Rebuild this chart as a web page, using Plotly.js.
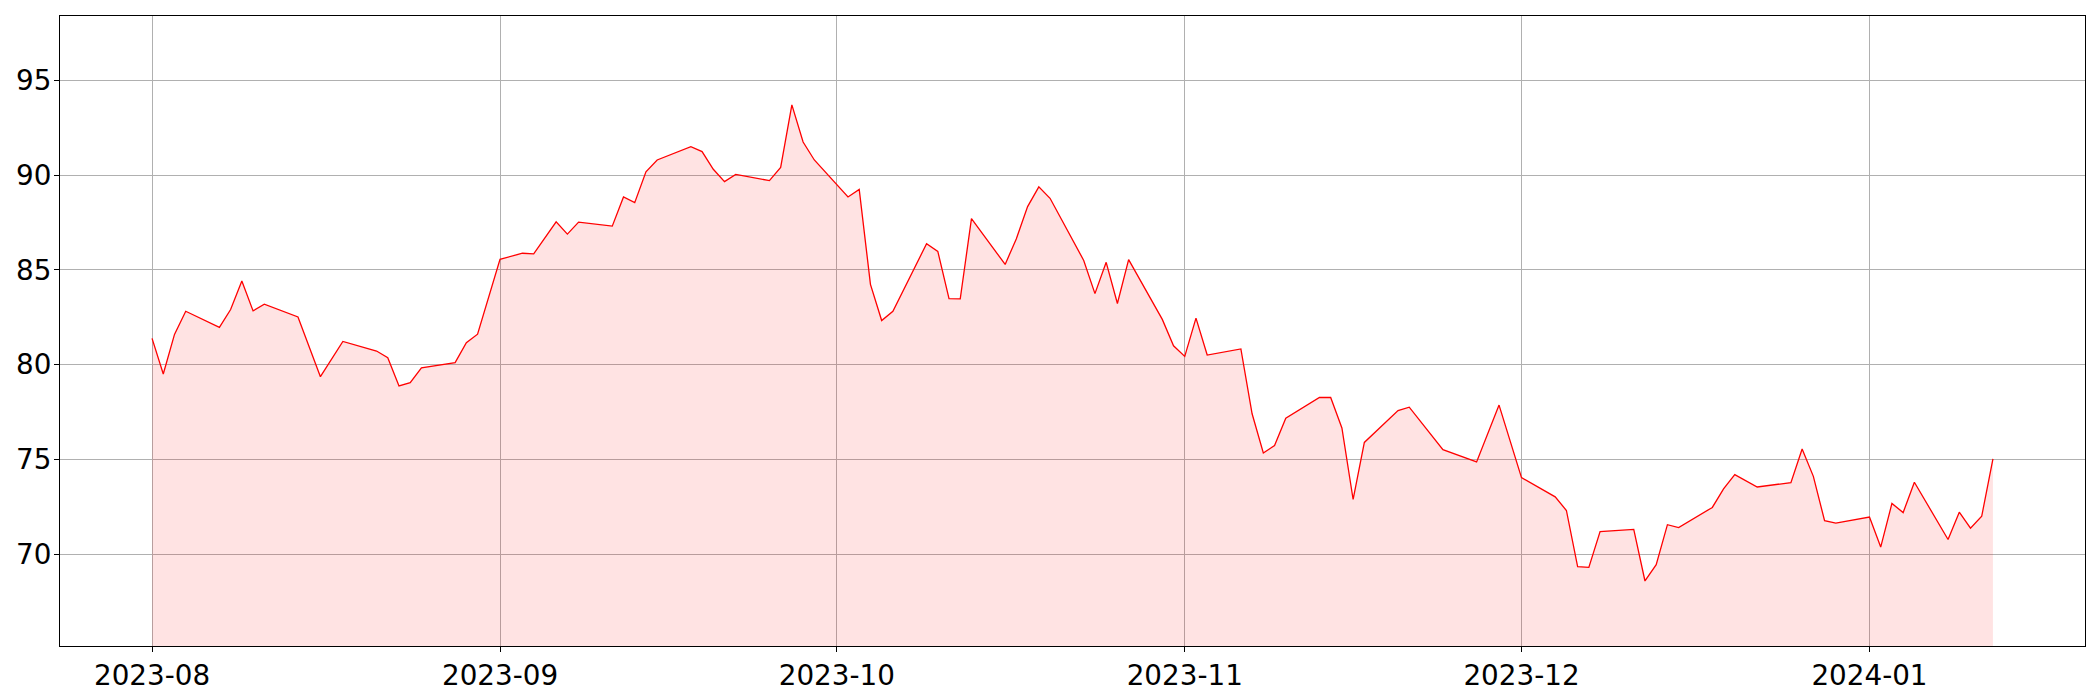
<!DOCTYPE html>
<html>
<head>
<meta charset="utf-8">
<script src="https://cdn.plot.ly/plotly-3.0.1.min.js"></script>
<style>
  html, body { margin: 0; padding: 0; background: #ffffff; }
  #chart { width: 2100px; height: 700px; }
</style>
</head>
<body>
<div id="chart"></div>
<script>
const dates = [
  '2023-08-01','2023-08-02','2023-08-03','2023-08-04','2023-08-07','2023-08-08','2023-08-09','2023-08-10','2023-08-11',
  '2023-08-14','2023-08-16','2023-08-18','2023-08-21','2023-08-22','2023-08-23','2023-08-24','2023-08-25',
  '2023-08-28','2023-08-29','2023-08-30','2023-09-01','2023-09-03','2023-09-04','2023-09-06','2023-09-07','2023-09-08',
  '2023-09-11','2023-09-12','2023-09-13','2023-09-14','2023-09-15','2023-09-18','2023-09-19','2023-09-20','2023-09-21','2023-09-22',
  '2023-09-25','2023-09-26','2023-09-27','2023-09-28','2023-09-29','2023-10-02','2023-10-03','2023-10-04','2023-10-05','2023-10-06',
  '2023-10-09','2023-10-10','2023-10-11','2023-10-12','2023-10-13','2023-10-16','2023-10-17','2023-10-18','2023-10-19','2023-10-20',
  '2023-10-23','2023-10-24','2023-10-25','2023-10-26','2023-10-27','2023-10-30','2023-10-31','2023-11-01','2023-11-02','2023-11-03',
  '2023-11-06','2023-11-07','2023-11-08','2023-11-09','2023-11-10','2023-11-13','2023-11-14','2023-11-15','2023-11-16','2023-11-17',
  '2023-11-20','2023-11-21','2023-11-24','2023-11-27','2023-11-29','2023-12-01','2023-12-04','2023-12-05','2023-12-06','2023-12-07','2023-12-08',
  '2023-12-11','2023-12-12','2023-12-13','2023-12-14','2023-12-15','2023-12-18','2023-12-19','2023-12-20','2023-12-22',
  '2023-12-25','2023-12-26','2023-12-27','2023-12-28','2023-12-29','2024-01-01','2024-01-02','2024-01-03','2024-01-04','2024-01-05',
  '2024-01-08','2024-01-09','2024-01-10','2024-01-11','2024-01-12'
];
const prices = [
  81.39,79.51,81.60,82.82,81.97,82.91,84.42,82.84,83.19,
  82.52,79.37,81.23,80.72,80.37,78.88,79.05,79.83,
  80.11,81.16,81.61,85.56,85.88,85.85,87.54,86.89,87.52,
  87.31,88.85,88.55,90.18,90.80,91.50,91.24,90.31,89.66,90.04,
  89.71,90.41,93.71,91.75,90.80,88.85,89.25,84.24,82.33,82.82,
  86.38,85.98,83.49,83.47,87.71,85.29,86.65,88.34,89.38,88.78,
  85.50,83.75,85.40,83.23,85.54,82.39,81.00,80.44,82.46,80.51,
  80.83,77.41,75.34,75.74,77.18,78.27,78.27,76.66,72.89,75.90,
  77.58,77.76,75.52,74.87,77.87,74.04,73.03,72.31,69.35,69.31,71.20,
  71.31,68.59,69.45,71.56,71.41,72.47,73.45,74.20,73.55,
  73.78,75.55,74.11,71.77,71.64,71.96,70.38,72.68,72.20,73.80,
  70.78,72.22,71.38,72.01,75.03
];
const xTickVals = ['2023-08-01','2023-09-01','2023-10-01','2023-11-01','2023-12-01','2024-01-01'];
const xTickText = ['2023-08','2023-09','2023-10','2023-11','2023-12','2024-01'];
const yTickVals = [70, 75, 80, 85, 90, 95];

// axis limits like the original: x with 5% margins, y from min*0.95 to max*1.05
const t0 = Date.parse(dates[0] + 'T00:00:00Z');
const t1 = Date.parse(dates[dates.length - 1] + 'T00:00:00Z');
const span = t1 - t0;
const fmt = ms => new Date(ms).toISOString().replace('T', ' ').replace('Z', '');
const xRange = [fmt(t0 - 0.05 * span), fmt(t1 + 0.05 * span)];
const yRange = [Math.min(...prices) * 0.95, Math.max(...prices) * 1.05];

const font = { family: 'DejaVu Sans, sans-serif', size: 27.8, color: '#000000' };

const trace = {
  x: dates,
  y: prices,
  type: 'scatter',
  mode: 'lines',
  line: { color: '#ff0000', width: 1.3 },
  fill: 'tozeroy',
  fillcolor: 'rgba(255,0,0,0.11)',
  hoverinfo: 'x+y'
};

const axisBase = {
  ticks: 'outside',
  ticklen: 5,
  tickwidth: 1,
  tickcolor: '#000000',
  showline: true,
  mirror: true,
  linecolor: '#000000',
  linewidth: 1,
  showgrid: true,
  gridcolor: '#b0b0b0',
  gridwidth: 1,
  zeroline: false,
  tickfont: font
};

const layout = {
  width: 2100,
  height: 700,
  paper_bgcolor: '#ffffff',
  plot_bgcolor: '#ffffff',
  margin: { l: 60, r: 15, t: 16, b: 54, pad: 0 },
  showlegend: false,
  font: font,
  xaxis: Object.assign({}, axisBase, {
    type: 'date',
    range: xRange,
    tickvals: xTickVals,
    ticktext: xTickText
  }),
  yaxis: Object.assign({}, axisBase, {
    range: yRange,
    tickvals: yTickVals,
    ticklabelstandoff: -3
  })
};

Plotly.newPlot('chart', [trace], layout, { displayModeBar: false, staticPlot: true });
</script>
</body>
</html>
